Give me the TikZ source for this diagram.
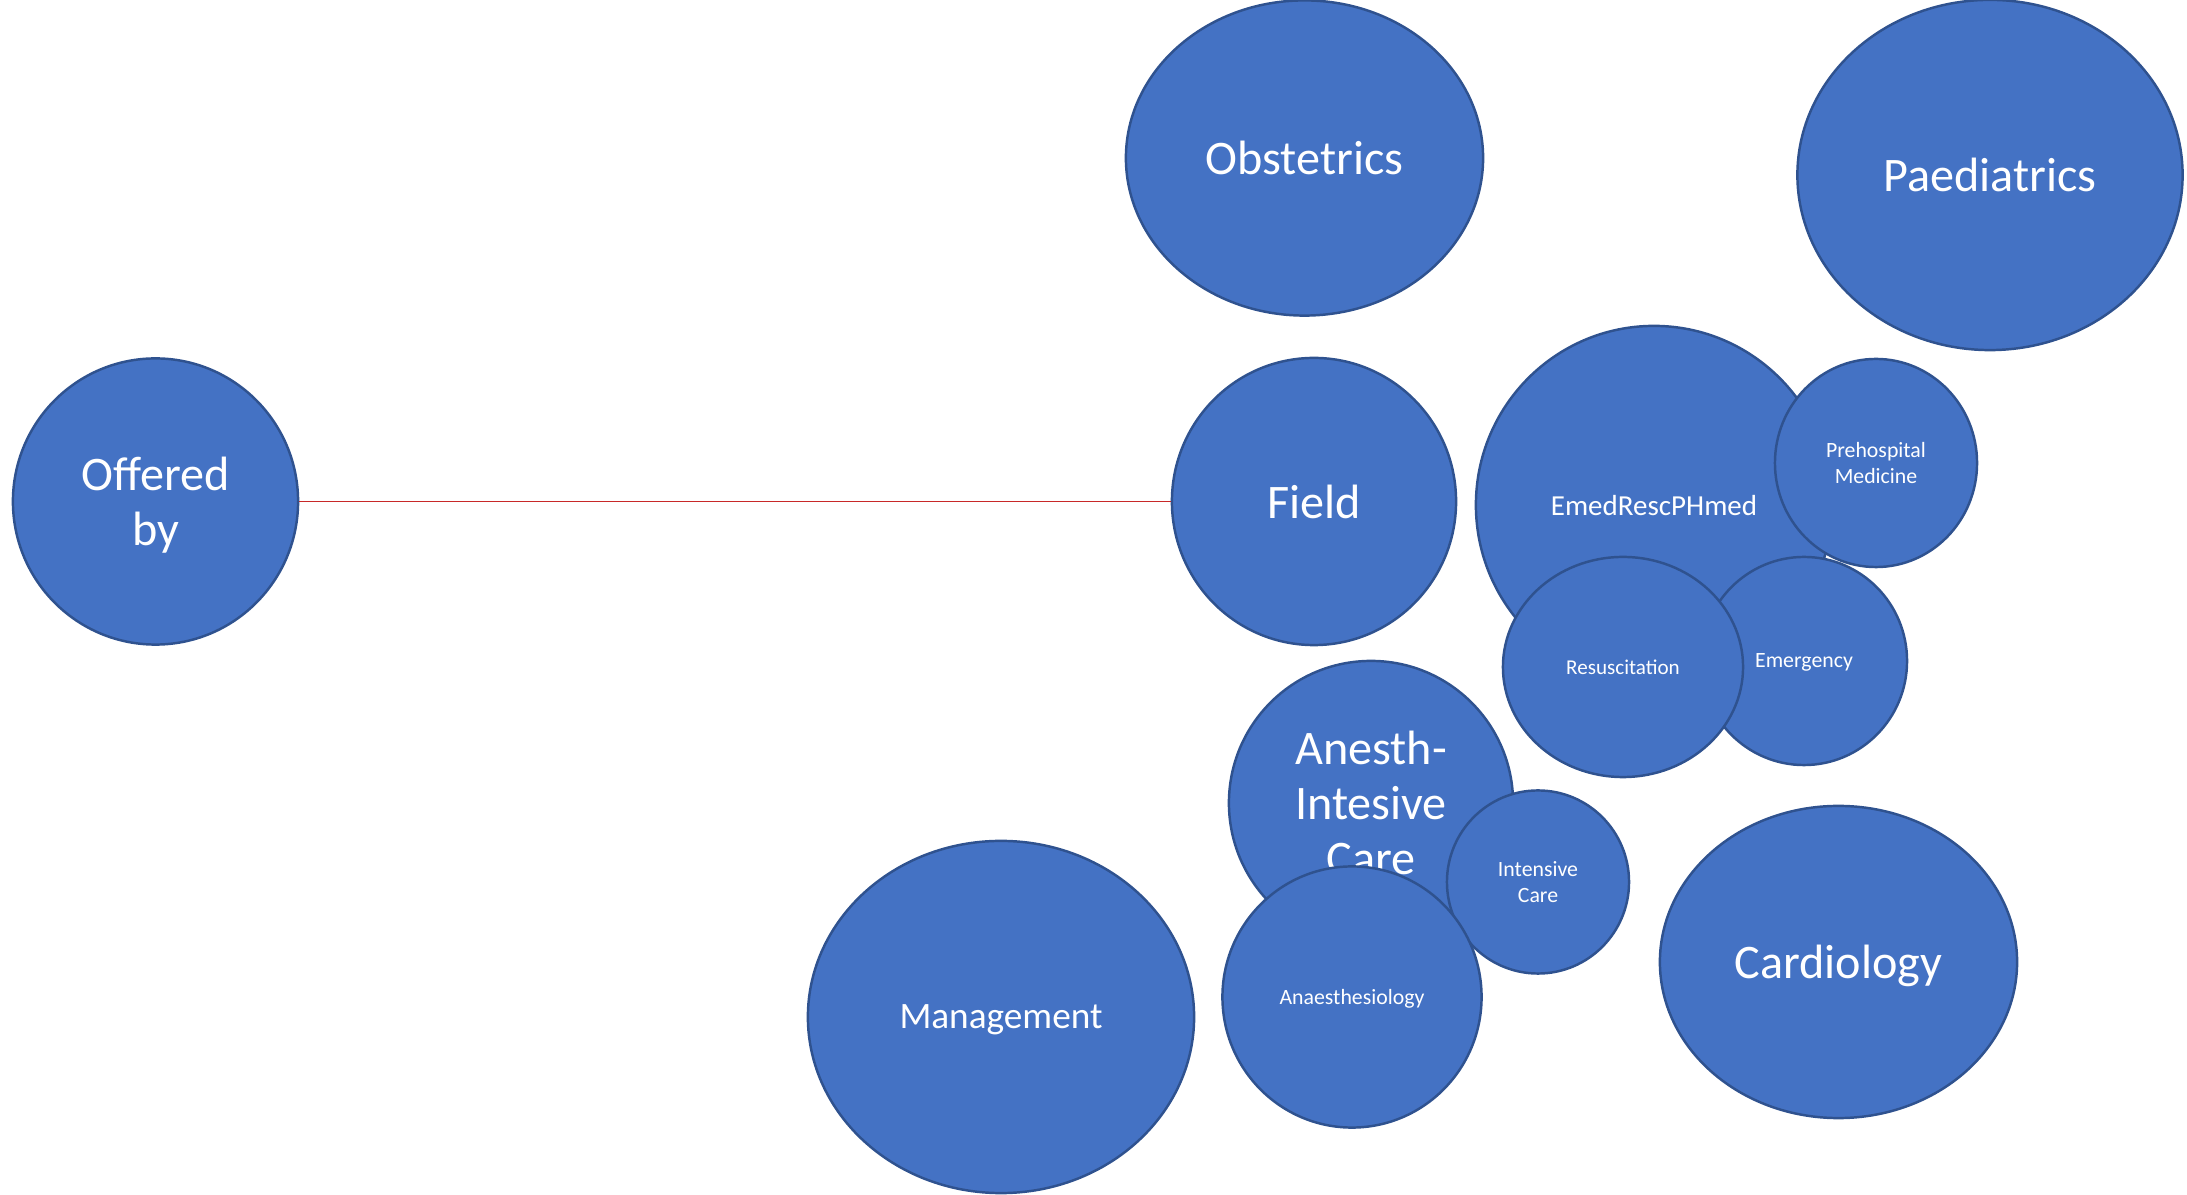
\documentclass[tikz,border=0pt]{standalone}
\usepackage{fontspec}
\setmainfont{Carlito}
\usepackage{xcolor}
\usepackage{tikz}
\usetikzlibrary{shapes.geometric}

\definecolor{bubblefill}{HTML}{4472C4}
\definecolor{bubbleline}{HTML}{2F528F}
\definecolor{linkred}{HTML}{C82828}

\tikzset{
	bubble/.style={ellipse, draw=bubbleline, fill=bubblefill, line width=0.7pt, text=white, inner sep=0pt, align=center, text depth=0pt},
	bigtext/.style={font=\fontsize{13.7pt}{15.6pt}\selectfont},
	midtext/.style={font=\fontsize{10.6pt}{12pt}\selectfont},
	emedtext/.style={font=\fontsize{8.25pt}{9.6pt}\selectfont},
	smalltext/.style={font=\fontsize{6.2pt}{7.5pt}\selectfont}
}

\begin{document}
\begin{tikzpicture}[x=0.01cm, y=-0.01cm]
	\useasboundingbox (0,0) rectangle (2187,1195);

	\node[bubble, bigtext, minimum width=2.85cm, minimum height=2.86cm] (offered) at (155.5,501.5) {Offered\\by};
	\node[bubble, bigtext, minimum width=2.84cm, minimum height=2.87cm] (field) at (1314,501.5) {Field};
	\node[bubble, bigtext, minimum width=3.57cm, minimum height=3.15cm] (obstetrics) at (1304.5,158) {Obstetrics};
	\node[bubble, bigtext, minimum width=3.85cm, minimum height=3.50cm] (paediatrics) at (1990,175) {Paediatrics};

	\node[bubble, emedtext, minimum width=3.56cm, minimum height=3.58cm] (emed) at (1654,505) {EmedRescPHmed};
	\node[bubble, smalltext, minimum width=2.02cm, minimum height=2.08cm] (prehosp) at (1876,463) {Prehospital\\Medicine};
	\node[bubble, smalltext, minimum width=2.06cm, minimum height=2.08cm] (emergency) at (1804,661) {Emergency};
	\node[bubble, smalltext, minimum width=2.40cm, minimum height=2.20cm] (resusc) at (1623,667) {\fontsize{6pt}{7.5pt}\selectfont Resuscitation};

	\node[bubble, bigtext, minimum width=2.84cm, minimum height=2.84cm] (anestic) at (1371,803) {Anesth-\\Intesive\\Care};
	\node[bubble, smalltext, minimum width=1.82cm, minimum height=1.83cm] (intcare) at (1538,882) {Intensive\\Care};
	\node[bubble, smalltext, minimum width=2.59cm, minimum height=2.61cm] (anaesth) at (1352,997) {Anaesthesiology};

	\node[bubble, midtext, minimum width=3.86cm, minimum height=3.52cm] (management) at (1001,1017) {Management};
	\node[bubble, bigtext, minimum width=3.57cm, minimum height=3.12cm] (cardiology) at (1838.5,962) {Cardiology};

	\draw[linkred, line width=0.45pt] (offered) -- (field);
\end{tikzpicture}
\end{document}
